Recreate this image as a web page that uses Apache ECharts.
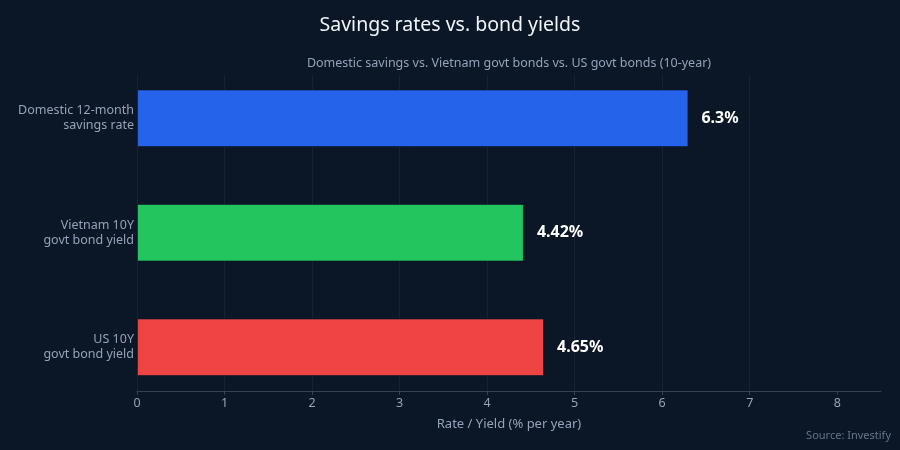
<!DOCTYPE html>
<html><head><meta charset="utf-8">
<script src="https://cdn.jsdelivr.net/npm/echarts@6/dist/echarts.min.js"></script>
<style>html,body{margin:0;background:#0b1627}#c{width:900px;height:450px}</style>
</head><body><div id="c"></div>
<script>
const categories = ['Domestic 12-month\nsavings rate', 'Vietnam 10Y\ngovt bond yield', 'US 10Y\ngovt bond yield'];
const values = [6.3, 4.42, 4.65];
const valueLabels = ['6.3%', '4.42%', '4.65%'];
const barColors = ['#2563eb', '#22c55e', '#ef4444'];
const xTicks = [0, 1, 2, 3, 4, 5, 6, 7, 8];

const font = '"Noto Sans", "Open Sans", sans-serif';
const chart = echarts.init(document.getElementById('c'), null, {renderer: 'canvas'});
chart.setOption({
  backgroundColor: '#0b1627',
  textStyle: {fontFamily: font},
  title: [
    {text: 'Savings rates vs. bond yields', left: 'center', top: 10,
     textStyle: {color: '#f1f5f9', fontSize: 19.5, fontWeight: 'normal', fontFamily: font}},
    {text: 'Domestic savings vs. Vietnam govt bonds vs. US govt bonds (10-year)', left: 504, textAlign: 'center', top: 52,
     textStyle: {color: '#94a3b8', fontSize: 12.5, fontWeight: 'normal', fontFamily: font}},
    {text: 'Source: Investify', right: 4, top: 425,
     textStyle: {color: '#64748b', fontSize: 11, fontWeight: 'normal', fontFamily: font}}
  ],
  grid: [
    {left: 137, right: 19, top: 75, bottom: 59},
    {left: 137, right: 19, top: 61, bottom: 45.5}
  ],
  xAxis: [
    {gridIndex: 0, type: 'value', min: 0, max: 8.5, interval: 1,
     name: 'Rate / Yield (% per year)', nameLocation: 'middle', nameGap: 27,
     nameTextStyle: {color: '#94a3b8', fontSize: 13, fontFamily: font},
     axisLine: {show: true, lineStyle: {color: '#334155', width: 1}},
     axisTick: {show: true, length: 4, lineStyle: {color: '#334155'}, customValues: xTicks},
     axisLabel: {color: '#94a3b8', fontSize: 12.5, margin: 6, fontFamily: font, customValues: xTicks},
     splitLine: {show: true, showMaxLine: false, lineStyle: {color: '#172235', width: 1}}},
    {gridIndex: 1, type: 'value', min: 0, max: 8.5, show: false}
  ],
  yAxis: [
    {gridIndex: 0, type: 'value', show: false, splitLine: {show: false}},
    {gridIndex: 1, type: 'category', data: categories, inverse: true,
     axisLine: {show: false}, axisTick: {show: false},
     axisLabel: {color: '#94a3b8', fontSize: 12.5, lineHeight: 15, margin: 3, fontFamily: font, align: 'right'}}
  ],
  series: [{
    type: 'bar', xAxisIndex: 1, yAxisIndex: 1, barWidth: 57.5,
    data: values.map((v, i) => ({value: v, itemStyle: {color: barColors[i]}})),
    itemStyle: {borderColor: 'rgba(11,22,39,0.6)', borderWidth: 1},
    label: {show: true, position: 'right', distance: 13,
      formatter: p => valueLabels[p.dataIndex],
      color: '#ffffff', fontSize: 16, fontWeight: 'bold', fontFamily: font},
    animation: false
  }],
  animation: false
});
</script></body></html>
